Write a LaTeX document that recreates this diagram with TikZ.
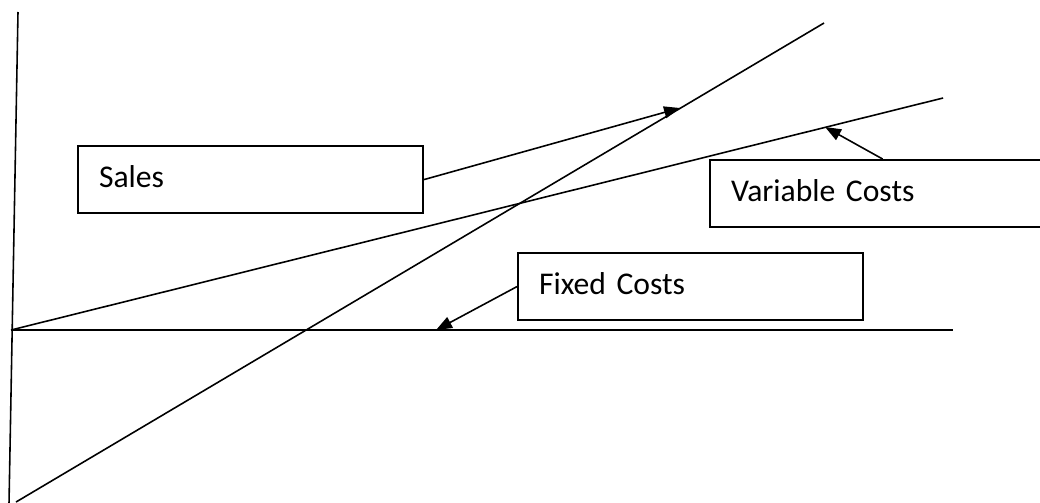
\documentclass[tikz,border=0pt]{standalone}
\usepackage{fontspec}
\setmainfont{Carlito}
\usetikzlibrary{arrows.meta}

\begin{document}
\begin{tikzpicture}[scale=0.1,
	    costbox/.style={draw=black, line width=0.6pt, anchor=north west, text width=30.3mm, minimum height=6.7mm, inner xsep=2.1mm, inner ysep=0pt, text height=2.2mm, text depth=0.6mm, align=left, font=\fontsize{9}{11}\selectfont},
	    costline/.style={black, line width=0.45pt},
	    pointer/.style={black, line width=0.45pt, -{Triangle[length=1.6mm,width=1.2mm]}}]
	    \useasboundingbox (0,0) rectangle (104,-50.3);
	    \clip (0,0) rectangle (104,-50.3);
	    % axes and lines
	    \coordinate (axistop) at (1.8,-1.2);
	    \coordinate (axisbot) at (0.9,-50.4);
	    \coordinate (origin) at (1.1,-33);
	    \coordinate (fixend) at (95.3,-33);
	    \coordinate (vcend) at (94.3,-9.8);
	    \coordinate (salesstart) at (1.6,-50.2);
	    \coordinate (salesend) at (82.4,-2.3);
	    \draw [costline] (axistop) -- (axisbot);
	    \draw [costline] (origin) -- (fixend);
	    \draw [costline] (origin) -- (vcend);
	    \draw [costline] (salesstart) -- (salesend);
	    % labels
	    \node [costbox] (sales) at (7.7,-14.5) {Sales};
	    \node [costbox] (varcost) at (70.9,-15.9) {Variable Costs};
	    \node [costbox] (fixcost) at (51.7,-25.2) {Fixed Costs};
	    \coordinate (salestip) at (68,-10.8);
	    \coordinate (vctip) at (82.5,-12.7);
	    \coordinate (fixtip) at (43.6,-33);
	    \draw [pointer] (sales.east) -- (salestip);
	    \draw [pointer] (varcost.north) -- (vctip);
	    \draw [pointer] (fixcost.west) -- (fixtip);
\end{tikzpicture}
\end{document}
